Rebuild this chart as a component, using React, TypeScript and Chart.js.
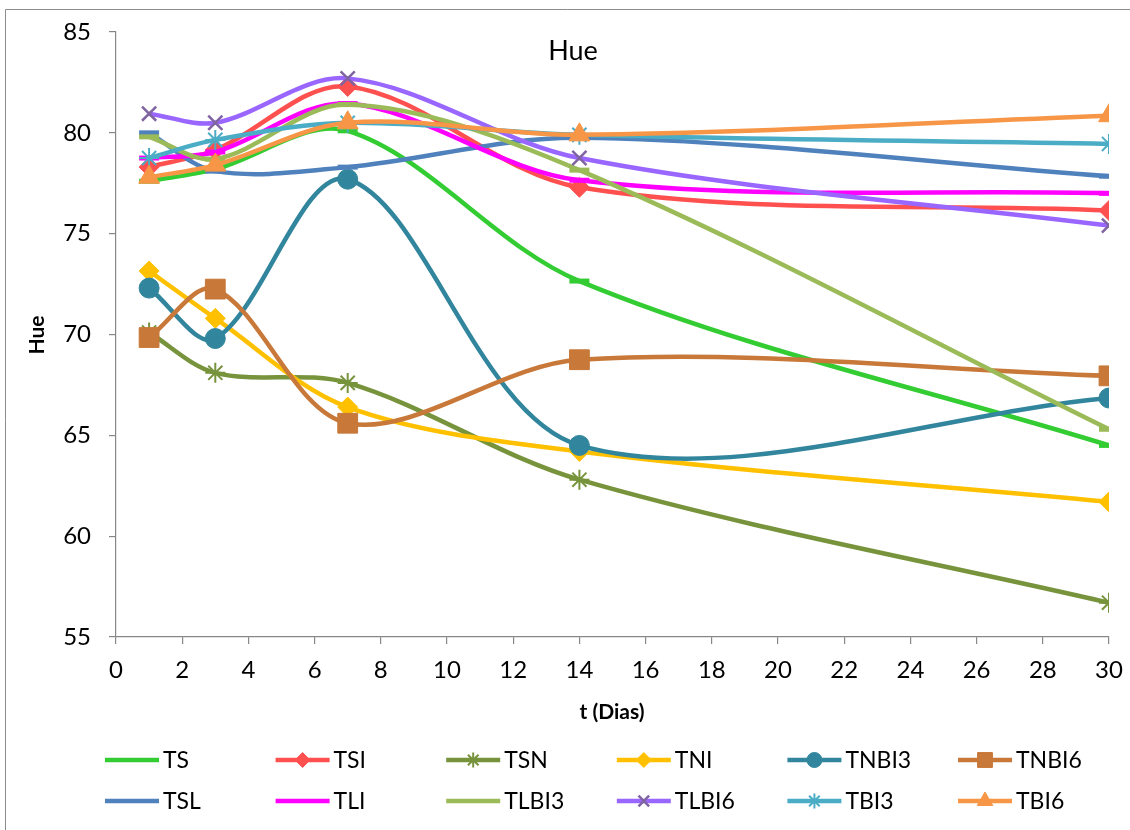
import React, { useEffect, useRef } from "react";
import { Chart, registerables } from "chart.js";
import { drawPoint } from "chart.js/helpers";

Chart.register(...registerables);

// Sampling days
const days = [1, 3, 7, 14, 30];

// Hue values per treatment
const TS = [77.6, 78.2, 80.1, 72.65, 64.5];
const TSI = [78.3, 79.15, 82.3, 77.3, 76.15];
const TSN = [70.1, 68.1, 67.6, 62.8, 56.7];
const TNI = [73.15, 70.8, 66.4, 64.2, 61.7];
const TNBI3 = [72.3, 69.8, 77.7, 64.5, 66.85];
const TNBI6 = [69.85, 72.25, 65.6, 68.75, 67.95];
const TSL = [80.0, 78.1, 78.3, 79.75, 77.85];
const TLI = [78.75, 79.05, 81.45, 77.65, 77.0];
const TLBI3 = [79.8, 78.7, 81.4, 78.15, 65.3];
const TLBI6 = [80.95, 80.5, 82.7, 78.75, 75.4];
const TBI3 = [78.75, 79.65, 80.5, 79.9, 79.45];
const TBI6 = [77.8, 78.4, 80.5, 79.9, 80.85];

const xTicks = { min: 0, max: 30, step: 2 };
const yTicks = { min: 55, max: 85, step: 5 };

const FONT = "Lato, 'Open Sans', sans-serif";

type SeriesStyle = {
  label: string;
  values: number[];
  color: string;
  markerColor?: string;
  pointStyle: string;
  radius: number;
  markerBorder: number;
};

const series: SeriesStyle[] = [
  { label: "TS", values: TS, color: "#33cc33", pointStyle: "line", radius: 10, markerBorder: 5 },
  { label: "TSI", values: TSI, color: "#ff5050", pointStyle: "rectRot", radius: 10, markerBorder: 1 },
  { label: "TSN", values: TSN, color: "#77933c", pointStyle: "star", radius: 10, markerBorder: 2 },
  { label: "TNI", values: TNI, color: "#ffc000", pointStyle: "rectRot", radius: 10, markerBorder: 1 },
  { label: "TNBI3", values: TNBI3, color: "#31859c", pointStyle: "circle", radius: 10, markerBorder: 1 },
  { label: "TNBI6", values: TNBI6, color: "#c87838", pointStyle: "rect", radius: 14, markerBorder: 1 },
  { label: "TSL", values: TSL, color: "#4f81bd", pointStyle: "line", radius: 10, markerBorder: 5 },
  { label: "TLI", values: TLI, color: "#ff00ff", pointStyle: "line", radius: 10, markerBorder: 5 },
  { label: "TLBI3", values: TLBI3, color: "#9bbb59", pointStyle: "line", radius: 10, markerBorder: 5 },
  { label: "TLBI6", values: TLBI6, color: "#9966ff", markerColor: "#8064a2", pointStyle: "crossRot", radius: 10, markerBorder: 2.5 },
  { label: "TBI3", values: TBI3, color: "#4bacc6", pointStyle: "star", radius: 10, markerBorder: 2 },
  { label: "TBI6", values: TBI6, color: "#f79646", pointStyle: "triangle", radius: 12, markerBorder: 1 },
];

const AXIS_GRAY = "#878787";

// Title, axis titles, legend and the frame lines, drawn on top of the chart
const decorations = {
  id: "decorations",
  afterDraw(chart: any) {
    const ctx: CanvasRenderingContext2D = chart.ctx;
    ctx.save();

    // frame
    ctx.strokeStyle = "#8c8c8c";
    ctx.lineWidth = 1;
    ctx.beginPath();
    ctx.moveTo(5.5, 830);
    ctx.lineTo(5.5, 9.5);
    ctx.lineTo(1130, 9.5);
    ctx.stroke();

    ctx.fillStyle = "#000";
    ctx.textBaseline = "middle";

    // chart title
    ctx.font = `27px ${FONT}`;
    ctx.textAlign = "center";
    ctx.fillText("Hue", 573, 51);

    // axis titles
    ctx.font = `bold 21px ${FONT}`;
    ctx.fillText("t (Dias)", 612, 712);
    ctx.save();
    ctx.translate(37, 335);
    ctx.rotate(-Math.PI / 2);
    ctx.fillText("Hue", 0, 0);
    ctx.restore();

    // legend: 2 rows of 6
    ctx.font = `23px ${FONT}`;
    ctx.textAlign = "left";
    series.forEach((s, i) => {
      const col = i % 6;
      const row = Math.floor(i / 6);
      const x0 = 105 + col * 170.6;
      const y = row === 0 ? 760 : 801;
      ctx.strokeStyle = s.color;
      ctx.lineWidth = 4.5;
      ctx.lineCap = "butt";
      ctx.beginPath();
      ctx.moveTo(x0, y);
      ctx.lineTo(x0 + 54, y);
      ctx.stroke();
      if (s.pointStyle !== "line") {
        ctx.fillStyle = s.markerColor || s.color;
        ctx.strokeStyle = s.markerColor || s.color;
        ctx.lineWidth = s.markerBorder;
        drawPoint(ctx, { pointStyle: s.pointStyle as any, radius: s.radius * 0.75, borderWidth: s.markerBorder, rotation: 0 } as any, x0 + 27, y);
      }
      ctx.fillStyle = "#000";
      ctx.fillText(s.label, x0 + 58, y + 1);
    });

    ctx.restore();
  },
};

export default function App() {
  const ref = useRef<HTMLCanvasElement | null>(null);

  useEffect(() => {
    document.body.style.margin = "0";
    const canvas = ref.current;
    if (!canvas) return;

    const datasets = series.map((s, i) => ({
      label: s.label,
      data: days.map((d, k) => ({ x: d, y: s.values[k] })),
      borderColor: s.color,
      borderWidth: 4.5,
      backgroundColor: s.markerColor || s.color,
      pointStyle: s.pointStyle,
      pointRadius: s.radius,
      pointHoverRadius: s.radius,
      pointBackgroundColor: s.markerColor || s.color,
      pointBorderColor: s.markerColor || s.color,
      pointBorderWidth: s.markerBorder,
      tension: 0.33,
      fill: false,
      order: series.length - i,
    }));

    const chart = new Chart(canvas, {
      type: "line",
      data: { datasets } as any,
      plugins: [decorations],
      options: {
        responsive: false,
        animation: false,
        layout: { padding: { left: 0, right: 21, top: 32, bottom: 0 } },
        plugins: {
          legend: { display: false },
          title: { display: false },
          tooltip: { enabled: false },
        },
        scales: {
          x: {
            type: "linear",
            min: xTicks.min,
            max: xTicks.max,
            ticks: {
              stepSize: xTicks.step,
              color: "#000",
              font: { family: FONT, size: 24 },
              padding: 12,
              maxRotation: 0,
            },
            grid: { drawOnChartArea: false, tickLength: 7, color: AXIS_GRAY, lineWidth: 1.2 },
            border: { color: AXIS_GRAY, width: 1.2 },
            afterFit: (scale: any) => {
              scale.height = 193;
              scale.paddingLeft = 0;
              scale.paddingRight = 0;
            },
          },
          y: {
            min: yTicks.min,
            max: yTicks.max,
            ticks: {
              stepSize: yTicks.step,
              color: "#000",
              font: { family: FONT, size: 24 },
              padding: 18,
            },
            grid: { drawOnChartArea: false, tickLength: 7, color: AXIS_GRAY, lineWidth: 1.2 },
            border: { color: AXIS_GRAY, width: 1.2 },
            afterFit: (scale: any) => {
              scale.width = 116;
              scale.paddingTop = 0;
              scale.paddingBottom = 0;
            },
          },
        },
      } as any,
    });

    return () => chart.destroy();
  }, []);

  return <canvas ref={ref} width={1130} height={830} style={{ display: "block", width: 1130, height: 830 }} />;
}
